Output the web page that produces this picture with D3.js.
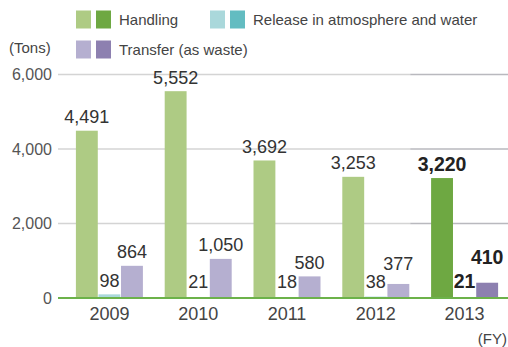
<!DOCTYPE html>
<html>
<head>
<meta charset="utf-8">
<script src="https://cdn.jsdelivr.net/npm/d3@7/dist/d3.min.js"></script>
<style>
  html, body { margin: 0; padding: 0; background: #fff; }
  svg { display: block; font-family: "Liberation Sans", Arial, Helvetica, sans-serif; }
</style>
</head>
<body>
<svg id="chart" width="508" height="347"></svg>
<script>
// Fiscal years and tonnage per series
const years = ["2009", "2010", "2011", "2012", "2013"];
const handling = [4491, 5552, 3692, 3253, 3220];
const release = [98, 21, 18, 38, 21];
const transfer = [864, 1050, 580, 377, 410];
const yTicks = [0, 2000, 4000, 6000];

const seriesNames = ["Handling", "Release in atmosphere and water", "Transfer (as waste)"];
const seriesValues = [handling, release, transfer];
// Older years in pale tones, latest year in full tones
const paleColors = ["#aecb84", "#aad8db", "#b5afd0"];
const fullColors = ["#6ea842", "#63bcc1", "#8d80b0"];
const latest = years[years.length - 1];

const svg = d3.select("#chart");

const y = d3.scaleLinear().domain([0, 6000]).range([298, 74.5]);
const x = d3.scaleBand().domain(years).range([65, 509]);
const inner = d3.scaleBand().domain(d3.range(3)).range([0, 67]).paddingInner(0.03);
const fmt = d3.format(",");

// Horizontal grid, drawn a shade darker across the latest year
const grid = svg.append("g");
yTicks.filter(t => t > 0).forEach(t => {
  grid.append("line")
    .attr("x1", 58).attr("x2", x(latest) - 10)
    .attr("y1", y(t)).attr("y2", y(t))
    .attr("stroke", "#d4d4d4").attr("stroke-width", 1.5);
  grid.append("line")
    .attr("x1", x(latest) - 10).attr("x2", 508)
    .attr("y1", y(t)).attr("y2", y(t))
    .attr("stroke", "#b9b9be").attr("stroke-width", 1.5);
});

// Y axis labels
const yAxis = d3.axisLeft(y).tickValues(yTicks).tickFormat(fmt).tickSize(0).tickPadding(0);
const ya = svg.append("g").attr("transform", "translate(52,0)").call(yAxis);
ya.select(".domain").remove();
ya.selectAll("text")
  .attr("font-size", 16).attr("fill", "#555")
  .attr("font-family", "Liberation Sans, Arial, sans-serif");

// Bars and value labels
const groups = svg.append("g").selectAll("g")
  .data(years).join("g")
  .attr("transform", d => `translate(${x(d) + (x.bandwidth() - 67) / 2},0)`);

groups.each(function (yr, i) {
  const g = d3.select(this);
  const isLatest = yr === latest;
  seriesValues.forEach((vals, s) => {
    const v = vals[i];
    g.append("rect")
      .attr("x", inner(s)).attr("width", inner.bandwidth())
      .attr("y", y(v)).attr("height", y(0) - y(v))
      .attr("fill", isLatest ? fullColors[s] : paleColors[s]);
  });
  // Labels sit just above each bar; the transfer label is lifted
  // so it stays clear of the release label beside it
  const hv = handling[i], rv = release[i], tv = transfer[i];
  const relY = Math.min(y(rv), y(0) - 3) - 7.5;
  const labelY = [
    y(hv) - 7.5,
    relY,
    Math.min(y(tv) - 7.5, relY - (isLatest ? 24 : 18))
  ];
  [hv, rv, tv].forEach((v, s) => {
    g.append("text")
      .attr("x", inner(s) + inner.bandwidth() / 2)
      .attr("y", labelY[s])
      .attr("text-anchor", "middle")
      .attr("font-size", isLatest ? 19.5 : 18)
      .attr("font-weight", isLatest ? "bold" : "normal")
      .attr("fill", isLatest ? "#222" : "#333")
      .text(fmt(v));
  });
});

// Baseline
svg.append("line")
  .attr("x1", 58).attr("x2", 508)
  .attr("y1", y(0)).attr("y2", y(0))
  .attr("stroke", "#6cb24a").attr("stroke-width", 2);

// X axis labels
const xAxis = d3.axisBottom(x).tickSize(0).tickPadding(0);
const xa = svg.append("g").attr("transform", `translate(0,${y(0) + 22})`).call(xAxis);
xa.select(".domain").remove();
xa.selectAll("text")
  .attr("dy", 0).attr("font-size", 18).attr("fill", "#444")
  .attr("font-family", "Liberation Sans, Arial, sans-serif");

// Units
svg.append("text").attr("x", 9).attr("y", 53).attr("font-size", 15).attr("fill", "#444").text("(Tons)");
svg.append("text").attr("x", 507).attr("y", 344).attr("text-anchor", "end")
  .attr("font-size", 15).attr("fill", "#444").text("(FY)");

// Legend: pale and full swatch pairs per series
const legendPos = [[76, 10.5], [210, 10.5], [76, 40.5]];
seriesNames.forEach((name, s) => {
  const [lx, ly] = legendPos[s];
  svg.append("rect").attr("x", lx).attr("y", ly).attr("width", 15).attr("height", 18).attr("fill", paleColors[s]);
  svg.append("rect").attr("x", lx + 20).attr("y", ly).attr("width", 15).attr("height", 18).attr("fill", fullColors[s]);
  svg.append("text").attr("x", lx + 43).attr("y", ly + 14.5)
    .attr("font-size", 15).attr("fill", "#444").text(name);
});
</script>
</body>
</html>
